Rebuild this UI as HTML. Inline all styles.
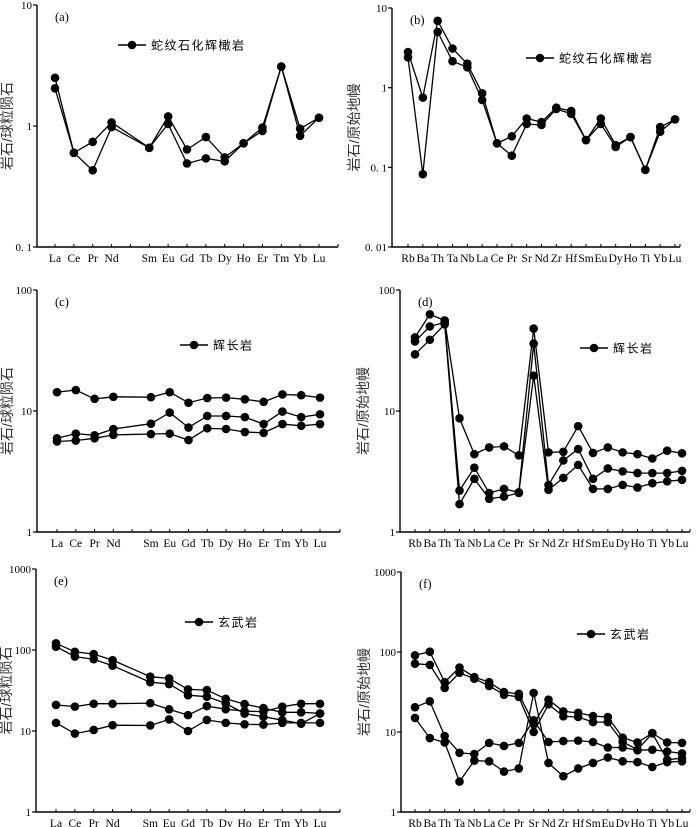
<!DOCTYPE html>
<html><head><meta charset="utf-8">
<style>
body{margin:0;background:#fff;}
svg{display:block;font-family:"Liberation Serif","Noto Serif CJK SC",serif;}
.cn{font-family:"Liberation Sans","Noto Sans CJK SC",sans-serif;}
</style></head>
<body>
<svg id="chart" width="700" height="827" viewBox="0 0 700 827" xmlns="http://www.w3.org/2000/svg"></svg>
<script>
// categories
const reeCats = ["La","Ce","Pr","Nd","","Sm","Eu","Gd","Tb","Dy","Ho","Er","Tm","Yb","Lu"];
const spiderCats = ["Rb","Ba","Th","Ta","Nb","La","Ce","Pr","Sr","Nd","Zr","Hf","Sm","Eu","Dy","Ho","Ti","Yb","Lu"];
// panel a (REE, serpentinized peridotite)
const aS1 = [2.5,0.6,0.74,1.07,null,0.66,1.2,0.64,0.81,0.55,0.72,0.97,3.1,0.95,1.17];
const aS2 = [2.05,0.6,0.43,0.98,null,0.66,1.04,0.49,0.54,0.51,0.72,0.91,3.1,0.83,1.17];
// panel b
const bS1 = [2.8,0.75,6.9,3.1,2.0,0.85,0.2,0.245,0.41,0.37,0.56,0.51,0.22,0.41,0.19,0.24,0.093,0.32,0.4];
const bS2 = [2.4,0.082,5.0,2.15,1.8,0.7,0.2,0.14,0.35,0.34,0.54,0.47,0.22,0.35,0.18,0.24,0.093,0.28,0.4];
// panel c (gabbro REE)
const cS1 = [14.3,14.9,12.6,13.1,null,13,14.3,11.7,12.8,12.9,12.5,11.9,13.7,13.5,12.9];
const cS2 = [5.95,6.5,6.3,7.1,null,7.85,9.7,7.3,9.1,9.1,8.9,7.8,9.9,8.9,9.4];
const cS3 = [5.6,5.7,5.95,6.35,null,6.45,6.5,5.75,7.2,7.1,6.7,6.6,7.8,7.55,7.8];
// panel d
const dS1 = [40.6,63,56,8.7,4.4,5.0,5.1,4.3,48,4.55,4.6,7.5,4.5,5.0,4.55,4.4,4.05,4.7,4.47];
const dS2 = [37.6,50,54,2.2,3.4,2.1,2.27,2.13,36,2.45,3.9,4.85,2.75,3.35,3.17,3.07,3.07,3.07,3.2];
const dS3 = [29.4,38.8,52,1.7,2.75,1.88,1.96,2.1,19.6,2.23,2.8,3.58,2.27,2.27,2.45,2.33,2.53,2.62,2.7];
// panel e (basalt REE)
const eS1 = [121,95,89,75,null,46.8,44.6,32.6,32,25,21.5,19.2,17,17,16.5];
const eS2 = [110,83,77,64,null,40,38,27.7,26.5,21.9,16.4,15,13.6,12.3,16.4];
const eS3 = [21,20,21.7,21.7,null,22.1,18.5,15.7,20.3,18.6,17.6,17.3,20,21.7,21.7];
const eS4 = [12.6,9.3,10.3,11.8,null,11.7,13.9,10,13.7,12.6,12.1,12,12.6,12.6,12.6];
// panel f
const fS1 = [91,101,42,64,48.6,42,31.6,30,12.7,25.4,18.1,17.4,15.8,15.4,8.5,7.4,9.7,7.4,7.3];
const fS2 = [71.5,69,35.5,55,46.4,37.6,29.3,27.4,10,22.2,15.7,15.4,13.3,13.3,7.5,6,9.6,4.5,4.7];
const fS3 = [20.4,24.2,8.9,5.5,5.3,7.3,6.7,7.3,14,7.5,7.7,7.8,7.5,6.4,6.4,5.9,6,5.7,5.4];
const fS4 = [15,8.4,7.4,2.4,4.4,4.3,3.2,3.5,30.8,4.1,2.8,3.5,4.1,4.8,4.3,4.2,3.65,4.2,4.3];
// tick labels
const aTicks = ["10","1","0. 1"];
const bTicks = ["10","1","0. 1","0. 01"];
const cTicks = ["100","10","1"];
const eTicks = ["1000","100","10","1"];
const reeLabel = "岩石/球粒陨石";
const pmLabel = "岩石/原始地幔";

const NS="http://www.w3.org/2000/svg";
const svg=document.getElementById('chart');
function mk(tag,attrs,parent){const e=document.createElementNS(NS,tag);for(const k in attrs)e.setAttribute(k,attrs[k]);(parent||svg).appendChild(e);return e;}

function panel(o){
  const g=mk('g',{});
  
  
  const maxExp=o.maxExp, nDec=o.ticks.length-1;
  const ySc=v=>o.yTop+(maxExp-Math.log10(v))*(o.yBot-o.yTop)/nDec;
  const step=(o.xLast-o.xFirst)/(o.cats.length-1);
  const xSc=i=>o.xFirst+i*step;
  // axes
  const ax=mk('path',{d:`M${o.ax} ${o.yTop} V${o.yBot} H${o.axEnd}`,stroke:'#000','stroke-width':1.4,fill:'none'},g);
  
  
  o.ticks.forEach((t,k)=>{
    const y=o.yTop+k*(o.yBot-o.yTop)/nDec;
    mk('line',{x1:o.ax-4,x2:o.ax,y1:y,y2:y,stroke:'#000','stroke-width':1.2},g);
    const tx=mk('text',{x:o.ax-5,y:y+4,'text-anchor':'end','font-size':11},g);
    tx.textContent=t;
    
    
  });
  o.cats.forEach((c,i)=>{
    const x=xSc(i);
    mk('line',{x1:x,x2:x,y1:o.yBot,y2:o.yBot-3,stroke:'#000','stroke-width':1},g);
    if(!c)return;
    const tx=mk('text',{x:x,y:o.yBot+15,'text-anchor':'middle','font-size':11.5},g);
    tx.textContent=c;
    
    
  });
  mk('line',{x1:o.axEnd,x2:o.axEnd,y1:o.yBot,y2:o.yBot-3,stroke:'#000','stroke-width':1},g);
  const pl=mk('text',{x:o.ax+18,y:o.yTop+16,'font-size':12.5},g);
  pl.textContent='('+o.id+')';
  
  
  const yl=mk('text',{x:0,y:0,'text-anchor':'middle','font-size':14,fill:'#333',class:'cn',transform:`translate(${o.ax-o.ylOff},${(o.yTop+o.yBot)/2}) rotate(-90)`},g);
  yl.textContent=o.ylabel;
  
  
  o.series.forEach((s,si)=>{
    let d='';let started=false;
    s.forEach((v,i)=>{if(v==null)return;d+=(started?'L':'M')+xSc(i).toFixed(1)+' '+ySc(v).toFixed(1)+' ';started=true;});
    const p=mk('path',{d:d,stroke:'#000','stroke-width':1.3,fill:'none'},g);
    
    
    s.forEach((v,i)=>{if(v==null)return;
      const c=mk('circle',{cx:xSc(i),cy:ySc(v),r:4.3,fill:'#000'},g);
      
      
    });
  });
  const lg=mk('g',{},g);
  
  
  mk('line',{x1:o.lg[0],x2:o.lg[0]+28,y1:o.lg[1],y2:o.lg[1],stroke:'#000','stroke-width':1.4},lg);
  mk('circle',{cx:o.lg[0]+14,cy:o.lg[1],r:4.3,fill:'#000'},lg);
  const lt=mk('text',{x:o.lg[0]+33,y:o.lg[1]+4.5,'font-size':12,class:'cn','letter-spacing':1.5},lg);
  lt.textContent=o.lgText;
}

panel({id:'a',cats:reeCats,series:[aS1,aS2],ticks:aTicks,maxExp:1,yTop:5,yBot:247,ax:37,axEnd:338,xFirst:55,xLast:319,ylabel:reeLabel,ylOff:25,lg:[118,45],lgText:'蛇纹石化辉橄岩'});
panel({id:'b',cats:spiderCats,series:[bS1,bS2],ticks:bTicks,maxExp:1,yTop:8,yBot:247,ax:392,axEnd:680,xFirst:408,xLast:675,ylabel:pmLabel,ylOff:33,lg:[526,58],lgText:'蛇纹石化辉橄岩'});
panel({id:'c',cats:reeCats,series:[cS1,cS2,cS3],ticks:cTicks,maxExp:2,yTop:290,yBot:532,ax:37,axEnd:340,xFirst:57,xLast:320,ylabel:reeLabel,ylOff:25,lg:[180,345],lgText:'辉长岩'});
panel({id:'d',cats:spiderCats,series:[dS1,dS2,dS3],ticks:cTicks,maxExp:2,yTop:290,yBot:532,ax:400,axEnd:690,xFirst:415,xLast:682,ylabel:pmLabel,ylOff:32,lg:[580,348],lgText:'辉长岩'});
panel({id:'e',cats:reeCats,series:[eS1,eS2,eS3,eS4],ticks:eTicks,maxExp:3,yTop:569,yBot:812,ax:36,axEnd:340,xFirst:56,xLast:320,ylabel:reeLabel,ylOff:25,lg:[185,622],lgText:'玄武岩'});
panel({id:'f',cats:spiderCats,series:[fS1,fS2,fS3,fS4],ticks:eTicks,maxExp:3,yTop:572,yBot:812,ax:401,axEnd:690,xFirst:415,xLast:682,ylabel:pmLabel,ylOff:32,lg:[577,634],lgText:'玄武岩'});
</script>
</body></html>
